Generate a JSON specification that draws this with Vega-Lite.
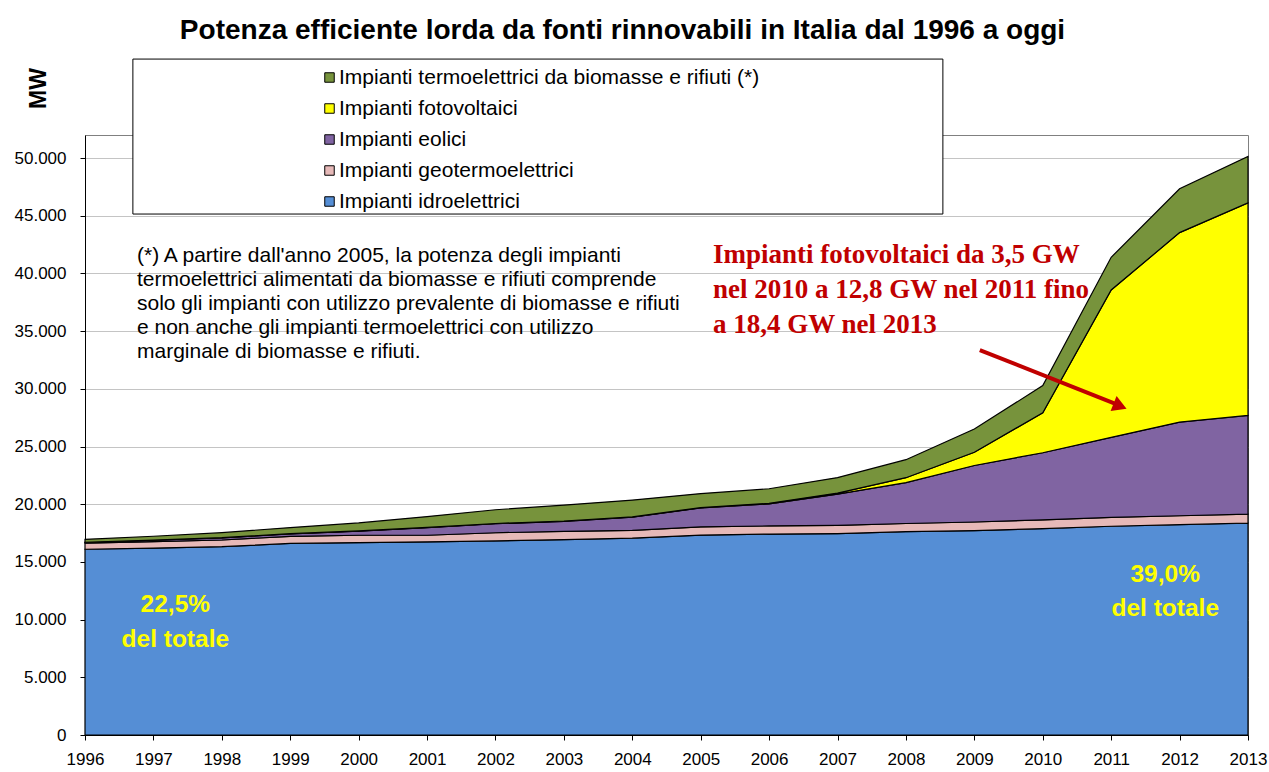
{
  "$schema": "https://vega.github.io/schema/vega-lite/v6.json",
  "width": 1163,
  "height": 600,
  "autosize": "none",
  "padding": {"left": 85, "top": 135, "right": 21, "bottom": 37},
  "background": "white",
  "title": {
    "text": "Potenza efficiente lorda da fonti rinnovabili in Italia dal 1996 a oggi",
    "font": "Liberation Sans",
    "fontSize": 28,
    "fontWeight": "bold",
    "color": "black",
    "anchor": "middle",
    "dx": -44,
    "offset": 14
  },
  "config": {
    "view": {"stroke": "#808080", "strokeWidth": 1},
    "font": "Liberation Sans",
    "axis": {
      "domainColor": "black",
      "tickColor": "black",
      "labelColor": "black",
      "labelFont": "Liberation Sans",
      "labelFontSize": 17,
      "tickSize": 5
    }
  },
  "layer": [
    {
      "data": {
        "values": [
          {"year":1996,"fonte":"Impianti idroelettrici","mw":16100,"ord":1},
          {"year":1997,"fonte":"Impianti idroelettrici","mw":16200,"ord":1},
          {"year":1998,"fonte":"Impianti idroelettrici","mw":16320,"ord":1},
          {"year":1999,"fonte":"Impianti idroelettrici","mw":16600,"ord":1},
          {"year":2000,"fonte":"Impianti idroelettrici","mw":16680,"ord":1},
          {"year":2001,"fonte":"Impianti idroelettrici","mw":16740,"ord":1},
          {"year":2002,"fonte":"Impianti idroelettrici","mw":16820,"ord":1},
          {"year":2003,"fonte":"Impianti idroelettrici","mw":16940,"ord":1},
          {"year":2004,"fonte":"Impianti idroelettrici","mw":17060,"ord":1},
          {"year":2005,"fonte":"Impianti idroelettrici","mw":17330,"ord":1},
          {"year":2006,"fonte":"Impianti idroelettrici","mw":17410,"ord":1},
          {"year":2007,"fonte":"Impianti idroelettrici","mw":17460,"ord":1},
          {"year":2008,"fonte":"Impianti idroelettrici","mw":17620,"ord":1},
          {"year":2009,"fonte":"Impianti idroelettrici","mw":17720,"ord":1},
          {"year":2010,"fonte":"Impianti idroelettrici","mw":17880,"ord":1},
          {"year":2011,"fonte":"Impianti idroelettrici","mw":18090,"ord":1},
          {"year":2012,"fonte":"Impianti idroelettrici","mw":18230,"ord":1},
          {"year":2013,"fonte":"Impianti idroelettrici","mw":18370,"ord":1},
          {"year":1996,"fonte":"Impianti geotermoelettrici","mw":520,"ord":2},
          {"year":1997,"fonte":"Impianti geotermoelettrici","mw":560,"ord":2},
          {"year":1998,"fonte":"Impianti geotermoelettrici","mw":580,"ord":2},
          {"year":1999,"fonte":"Impianti geotermoelettrici","mw":620,"ord":2},
          {"year":2000,"fonte":"Impianti geotermoelettrici","mw":630,"ord":2},
          {"year":2001,"fonte":"Impianti geotermoelettrici","mw":570,"ord":2},
          {"year":2002,"fonte":"Impianti geotermoelettrici","mw":710,"ord":2},
          {"year":2003,"fonte":"Impianti geotermoelettrici","mw":710,"ord":2},
          {"year":2004,"fonte":"Impianti geotermoelettrici","mw":680,"ord":2},
          {"year":2005,"fonte":"Impianti geotermoelettrici","mw":710,"ord":2},
          {"year":2006,"fonte":"Impianti geotermoelettrici","mw":710,"ord":2},
          {"year":2007,"fonte":"Impianti geotermoelettrici","mw":710,"ord":2},
          {"year":2008,"fonte":"Impianti geotermoelettrici","mw":710,"ord":2},
          {"year":2009,"fonte":"Impianti geotermoelettrici","mw":740,"ord":2},
          {"year":2010,"fonte":"Impianti geotermoelettrici","mw":770,"ord":2},
          {"year":2011,"fonte":"Impianti geotermoelettrici","mw":770,"ord":2},
          {"year":2012,"fonte":"Impianti geotermoelettrici","mw":770,"ord":2},
          {"year":2013,"fonte":"Impianti geotermoelettrici","mw":770,"ord":2},
          {"year":1996,"fonte":"Impianti eolici","mw":70,"ord":3},
          {"year":1997,"fonte":"Impianti eolici","mw":120,"ord":3},
          {"year":1998,"fonte":"Impianti eolici","mw":180,"ord":3},
          {"year":1999,"fonte":"Impianti eolici","mw":210,"ord":3},
          {"year":2000,"fonte":"Impianti eolici","mw":360,"ord":3},
          {"year":2001,"fonte":"Impianti eolici","mw":660,"ord":3},
          {"year":2002,"fonte":"Impianti eolici","mw":780,"ord":3},
          {"year":2003,"fonte":"Impianti eolici","mw":870,"ord":3},
          {"year":2004,"fonte":"Impianti eolici","mw":1130,"ord":3},
          {"year":2005,"fonte":"Impianti eolici","mw":1640,"ord":3},
          {"year":2006,"fonte":"Impianti eolici","mw":1910,"ord":3},
          {"year":2007,"fonte":"Impianti eolici","mw":2710,"ord":3},
          {"year":2008,"fonte":"Impianti eolici","mw":3540,"ord":3},
          {"year":2009,"fonte":"Impianti eolici","mw":4900,"ord":3},
          {"year":2010,"fonte":"Impianti eolici","mw":5810,"ord":3},
          {"year":2011,"fonte":"Impianti eolici","mw":6940,"ord":3},
          {"year":2012,"fonte":"Impianti eolici","mw":8120,"ord":3},
          {"year":2013,"fonte":"Impianti eolici","mw":8560,"ord":3},
          {"year":1996,"fonte":"Impianti fotovoltaici","mw":16,"ord":4},
          {"year":1997,"fonte":"Impianti fotovoltaici","mw":17,"ord":4},
          {"year":1998,"fonte":"Impianti fotovoltaici","mw":18,"ord":4},
          {"year":1999,"fonte":"Impianti fotovoltaici","mw":18,"ord":4},
          {"year":2000,"fonte":"Impianti fotovoltaici","mw":19,"ord":4},
          {"year":2001,"fonte":"Impianti fotovoltaici","mw":20,"ord":4},
          {"year":2002,"fonte":"Impianti fotovoltaici","mw":22,"ord":4},
          {"year":2003,"fonte":"Impianti fotovoltaici","mw":26,"ord":4},
          {"year":2004,"fonte":"Impianti fotovoltaici","mw":31,"ord":4},
          {"year":2005,"fonte":"Impianti fotovoltaici","mw":34,"ord":4},
          {"year":2006,"fonte":"Impianti fotovoltaici","mw":50,"ord":4},
          {"year":2007,"fonte":"Impianti fotovoltaici","mw":87,"ord":4},
          {"year":2008,"fonte":"Impianti fotovoltaici","mw":430,"ord":4},
          {"year":2009,"fonte":"Impianti fotovoltaici","mw":1140,"ord":4},
          {"year":2010,"fonte":"Impianti fotovoltaici","mw":3470,"ord":4},
          {"year":2011,"fonte":"Impianti fotovoltaici","mw":12770,"ord":4},
          {"year":2012,"fonte":"Impianti fotovoltaici","mw":16420,"ord":4},
          {"year":2013,"fonte":"Impianti fotovoltaici","mw":18420,"ord":4},
          {"year":1996,"fonte":"Impianti termoelettrici da biomasse e rifiuti (*)","mw":250,"ord":5},
          {"year":1997,"fonte":"Impianti termoelettrici da biomasse e rifiuti (*)","mw":330,"ord":5},
          {"year":1998,"fonte":"Impianti termoelettrici da biomasse e rifiuti (*)","mw":440,"ord":5},
          {"year":1999,"fonte":"Impianti termoelettrici da biomasse e rifiuti (*)","mw":530,"ord":5},
          {"year":2000,"fonte":"Impianti termoelettrici da biomasse e rifiuti (*)","mw":690,"ord":5},
          {"year":2001,"fonte":"Impianti termoelettrici da biomasse e rifiuti (*)","mw":940,"ord":5},
          {"year":2002,"fonte":"Impianti termoelettrici da biomasse e rifiuti (*)","mw":1190,"ord":5},
          {"year":2003,"fonte":"Impianti termoelettrici da biomasse e rifiuti (*)","mw":1380,"ord":5},
          {"year":2004,"fonte":"Impianti termoelettrici da biomasse e rifiuti (*)","mw":1460,"ord":5},
          {"year":2005,"fonte":"Impianti termoelettrici da biomasse e rifiuti (*)","mw":1210,"ord":5},
          {"year":2006,"fonte":"Impianti termoelettrici da biomasse e rifiuti (*)","mw":1260,"ord":5},
          {"year":2007,"fonte":"Impianti termoelettrici da biomasse e rifiuti (*)","mw":1340,"ord":5},
          {"year":2008,"fonte":"Impianti termoelettrici da biomasse e rifiuti (*)","mw":1560,"ord":5},
          {"year":2009,"fonte":"Impianti termoelettrici da biomasse e rifiuti (*)","mw":2020,"ord":5},
          {"year":2010,"fonte":"Impianti termoelettrici da biomasse e rifiuti (*)","mw":2350,"ord":5},
          {"year":2011,"fonte":"Impianti termoelettrici da biomasse e rifiuti (*)","mw":2830,"ord":5},
          {"year":2012,"fonte":"Impianti termoelettrici da biomasse e rifiuti (*)","mw":3800,"ord":5},
          {"year":2013,"fonte":"Impianti termoelettrici da biomasse e rifiuti (*)","mw":4030,"ord":5}
        ]
      },
      "mark": {"type": "area", "stroke": "black", "strokeWidth": 1.2, "opacity": 1, "fillOpacity": 1},
      "encoding": {
        "x": {
          "field": "year", "type": "quantitative",
          "scale": {"domain": [1996, 2013], "nice": false, "zero": false},
          "axis": {
            "values": [1996,1997,1998,1999,2000,2001,2002,2003,2004,2005,2006,2007,2008,2009,2010,2011,2012,2013],
            "format": "d", "grid": false, "title": null, "labelPadding": 11,
            "labelFlush": false, "labelOverlap": false
          }
        },
        "y": {
          "field": "mw", "type": "quantitative", "stack": "zero",
          "scale": {"domain": [0, 52000], "nice": false},
          "axis": {
            "values": [0,5000,10000,15000,20000,25000,30000,35000,40000,45000,50000],
            "labelExpr": "replace(format(datum.value, ',d'), ',', '.')",
            "grid": true, "gridColor": "#c4c4c4", "gridWidth": 1,
            "labelPadding": 14,
            "title": "MW", "titleAngle": 270, "titleX": -47, "titleY": -47,
            "titleFontSize": 23, "titleFontWeight": "bold", "titleColor": "black",
            "titleAlign": "center", "titleBaseline": "middle", "titleFont": "Liberation Sans"
          }
        },
        "color": {
          "field": "fonte", "type": "nominal",
          "scale": {
            "domain": ["Impianti termoelettrici da biomasse e rifiuti (*)", "Impianti fotovoltaici", "Impianti eolici", "Impianti geotermoelettrici", "Impianti idroelettrici"],
            "range": ["#77933C", "#FFFF00", "#8064A2", "#E6B9B8", "#558ED5"]
          },
          "legend": {
            "orient": "none", "legendX": 234, "legendY": -68,
            "title": null, "padding": 0,
            "symbolType": "square", "symbolSize": 90, "symbolStrokeColor": "black", "symbolStrokeWidth": 1,
            "labelOffset": -1,
            "labelFontSize": 21, "labelFont": "Liberation Sans", "labelColor": "black", "labelLimit": 700,
            "rowPadding": 9
          }
        },
        "order": {"field": "ord", "type": "quantitative"}
      }
    },
    {
      "data": {"values": [{}]},
      "mark": {"type": "rect", "fill": "white", "stroke": "black", "strokeWidth": 1, "clip": false},
      "encoding": {
        "x": {"datum": 1996.70, "type": "quantitative"},
        "x2": {"datum": 2008.54},
        "y": {"datum": 58580, "type": "quantitative"},
        "y2": {"datum": 45150}
      }
    },
    {
      "data": {"values": [{}]},
      "mark": {"type": "text", "align": "left", "baseline": "alphabetic", "font": "Liberation Sans", "fontSize": 21, "color": "black", "lineHeight": 24},
      "encoding": {
        "x": {"datum": 1996.76, "type": "quantitative"},
        "y": {"datum": 40990, "type": "quantitative"},
        "text": {"value": ["(*) A partire dall'anno 2005, la potenza degli impianti", "termoelettrici alimentati da biomasse e rifiuti comprende", "solo gli impianti con utilizzo prevalente di biomasse e rifiuti", "e non anche gli impianti termoelettrici con utilizzo", "marginale di biomasse e rifiuti."]}
      }
    },
    {
      "data": {"values": [{}]},
      "mark": {"type": "text", "align": "left", "baseline": "alphabetic", "font": "Liberation Serif", "fontSize": 27, "fontWeight": "bold", "color": "#C00000", "lineHeight": 35},
      "encoding": {
        "x": {"datum": 2005.18, "type": "quantitative"},
        "y": {"datum": 40900, "type": "quantitative"},
        "text": {"value": ["Impianti fotovoltaici da 3,5 GW", "nel 2010 a 12,8 GW nel 2011 fino", "a 18,4 GW nel 2013"]}
      }
    },
    {
      "data": {"values": [{}]},
      "mark": {"type": "rule", "color": "#C00000", "strokeWidth": 4},
      "encoding": {
        "x": {"datum": 2009.08, "type": "quantitative"},
        "y": {"datum": 33360, "type": "quantitative"},
        "x2": {"datum": 2011.1},
        "y2": {"datum": 28620}
      }
    },
    {
      "data": {"values": [{}]},
      "mark": {"type": "point", "shape": "triangle-up", "filled": true, "color": "#C00000", "size": 260, "angle": 111.8, "opacity": 1},
      "encoding": {
        "x": {"datum": 2011.13, "type": "quantitative"},
        "y": {"datum": 28510, "type": "quantitative"}
      }
    },
    {
      "data": {"values": [{}]},
      "mark": {"type": "text", "align": "center", "baseline": "middle", "font": "Liberation Sans", "fontSize": 24.5, "fontWeight": "bold", "color": "#FFFF00", "lineHeight": 35},
      "encoding": {
        "x": {"datum": 1997.32, "type": "quantitative"},
        "y": {"datum": 11265, "type": "quantitative"},
        "text": {"value": ["22,5%", "del totale"]}
      }
    },
    {
      "data": {"values": [{}]},
      "mark": {"type": "text", "align": "center", "baseline": "middle", "font": "Liberation Sans", "fontSize": 24.5, "fontWeight": "bold", "color": "#FFFF00", "lineHeight": 34},
      "encoding": {
        "x": {"datum": 2011.79, "type": "quantitative"},
        "y": {"datum": 13865, "type": "quantitative"},
        "text": {"value": ["39,0%", "del totale"]}
      }
    }
  ]
}
